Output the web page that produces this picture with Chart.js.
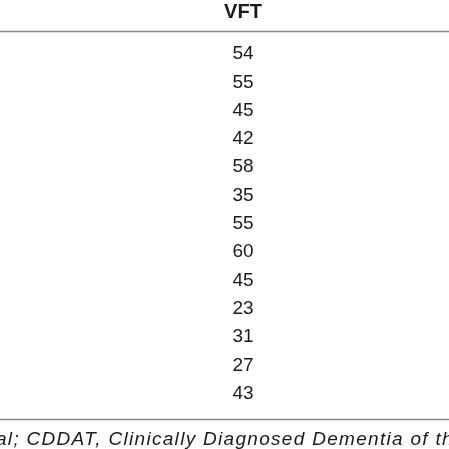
<!DOCTYPE html>
<html><head><meta charset="utf-8">
<script src="https://cdn.jsdelivr.net/npm/chart.js@4"></script>
<style>html,body{margin:0;padding:0;background:#fff;overflow:hidden}</style>
</head><body>
<canvas id="c" width="449" height="449"></canvas>
<script>
const header = "VFT";
const vftValues = [54, 55, 45, 42, 58, 35, 55, 60, 45, 23, 31, 27, 43];
const footnote = "nal; CDDAT, Clinically Diagnosed Dementia of the Alzheimer";
const rowIndex = vftValues.map((v, i) => i);

const tablePlugin = {
  id: 'table',
  afterDraw(chart) {
    const ctx = chart.ctx, y = chart.scales.y, x = chart.scales.x;
    const cx = x.getPixelForValue(0);
    ctx.save();
    ctx.fillStyle = '#1a1a1a';
    ctx.textAlign = 'center';
    ctx.textBaseline = 'middle';
    ctx.font = 'bold 20px "Liberation Sans", Arial, sans-serif';
    ctx.fillText(header, cx, y.getPixelForValue(-1.48));
    ctx.font = '19px "Liberation Sans", Arial, sans-serif';
    vftValues.forEach((v, i) => ctx.fillText(String(v), cx, y.getPixelForValue(rowIndex[i])));
    ctx.strokeStyle = '#8a8a8a';
    ctx.lineWidth = 1.5;
    [-0.813, 12.9].forEach(r => {
      const py = Math.round(y.getPixelForValue(r)) + 0.5;
      ctx.beginPath(); ctx.moveTo(0, py); ctx.lineTo(449, py); ctx.stroke();
    });
    ctx.font = 'italic 19px "Liberation Sans", Arial, sans-serif';
    ctx.letterSpacing = '1.3px';
    ctx.textAlign = 'left';
    const off = ctx.measureText('n').width + 6;
    ctx.fillText(footnote, 2 - off, y.getPixelForValue(13.64));
    ctx.restore();
  }
};

new Chart(document.getElementById('c'), {
  type: 'scatter',
  data: { datasets: [{ data: rowIndex.map(i => ({x: 0, y: i})), pointRadius: 0, showLine: false }] },
  options: {
    responsive: false, animation: false, devicePixelRatio: 1,
    layout: { padding: 0 },
    plugins: { legend: { display: false }, tooltip: { enabled: false } },
    scales: {
      x: { display: false, min: -1, max: 0.848 },
      y: { display: false, reverse: true, min: -1.908, max: 13.958 }
    }
  },
  plugins: [tablePlugin]
});
</script>
</body></html>
